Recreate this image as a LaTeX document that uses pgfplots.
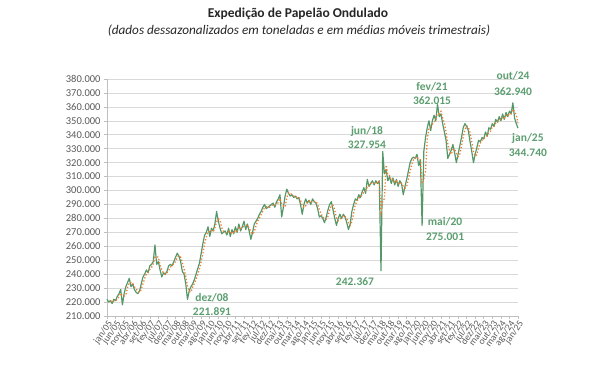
\documentclass[border=0pt]{standalone}
\usepackage{pgfplots}
\pgfplotsset{compat=1.18}
\usepackage{pgfplotstable}
\usepackage{fontspec}
\setmainfont{Carlito}
\definecolor{gline}{RGB}{84,152,106}
\definecolor{gtext}{RGB}{92,158,112}
\definecolor{oline}{RGB}{237,125,49}
\definecolor{tickgray}{RGB}{89,89,89}
\definecolor{gridgray}{RGB}{217,217,217}
\definecolor{axgray}{RGB}{191,191,191}

\pgfplotstableread{
m v ma
0 222 nan
1 220 nan
2 221 221.0
3 219 220.0
4 222 220.7
5 221 220.7
6 224 222.3
7 226 223.7
8 229 226.3
9 218 224.3
10 226 224.3
11 231 225.0
12 234 230.3
13 237 234.0
14 231 234.0
15 233 233.7
16 229 231.0
17 227 229.7
18 226 227.3
19 228 227.0
20 233 229.0
21 238 233.0
22 240 237.0
23 243 240.3
24 241 241.3
25 246 243.3
26 247 244.7
27 249 247.3
28 261 252.3
29 247 252.3
30 249 252.3
31 243 246.3
32 238 243.3
33 241 240.7
34 240 239.7
35 242 241.0
36 246 242.7
37 247 245.0
38 246 246.3
39 249 247.3
40 252 249.0
41 255 252.0
42 253 253.3
43 249 252.3
44 242 248.0
45 240 243.7
46 233 238.3
47 221.891 231.6
48 228 227.6
49 231 227.0
50 233 230.7
51 236 233.3
52 240 236.3
53 244 240.0
54 248 244.0
55 255 249.0
56 262 255.0
57 268 261.7
58 270 266.7
59 274 270.7
60 267 270.3
61 273 271.3
62 271 270.3
63 276 273.3
64 285 277.3
65 278 279.7
66 273 278.7
67 269 273.3
68 270 270.7
69 271 270.0
70 268 269.7
71 273 270.7
72 267 269.3
73 272 270.7
74 269 269.3
75 274 271.7
76 270 271.0
77 276 273.3
78 271 272.3
79 274 273.7
80 278 274.3
81 272 274.7
82 276 275.3
83 271 273.0
84 265 270.7
85 270 268.7
86 276 270.3
87 278 274.7
88 280 278.0
89 283 280.3
90 285 282.7
91 288 285.3
92 290 287.7
93 287 288.3
94 288 288.3
95 289 288.0
96 290 289.0
97 291 290.0
98 288 289.7
99 292 290.3
100 294 291.3
101 297 294.3
102 281 290.7
103 288 288.7
104 296 288.3
105 301 295.0
106 298 298.3
107 296 298.3
108 297 297.0
109 295 296.0
110 296 296.0
111 294 295.0
112 295 295.0
113 290 293.0
114 283 289.3
115 290 287.7
116 294 289.0
117 291 291.7
118 293 292.7
119 290 291.3
120 294 292.3
121 292 292.0
122 291 292.3
123 287 290.0
124 281 286.3
125 282 283.3
126 280 281.0
127 277 279.7
128 281 279.3
129 286 281.3
130 290 285.7
131 292 289.3
132 286 289.3
133 280 286.0
134 275 280.3
135 280 278.3
136 283 279.3
137 280 281.0
138 283 282.0
139 281 281.3
140 277 280.3
141 272 276.7
142 276 275.0
143 285 277.7
144 290 283.7
145 294 289.7
146 293 292.3
147 297 294.7
148 295 295.0
149 299 297.0
150 302 298.7
151 298 299.7
152 308 302.7
153 303 303.0
154 305 305.3
155 307 305.0
156 304 305.3
157 307 306.0
158 305 305.3
159 307 306.3
160 242.367 284.8
161 327.954 292.5
162 312 294.1
163 315 318.3
164 307 311.3
165 310 310.7
166 305 307.3
167 309 308.0
168 304 306.0
169 308 307.0
170 303 305.0
171 307 306.0
172 305 305.0
173 297 303.0
174 303 301.7
175 308 302.7
176 314 308.3
177 320 314.0
178 323 319.0
179 324 322.3
180 323 323.3
181 326 324.3
182 318 322.3
183 322 322.0
184 275.001 305.0
185 328 308.3
186 338 313.7
187 345 337.0
188 350 344.3
189 343 346.0
190 350 347.7
191 354 349.0
192 350 351.3
193 362.015 355.3
194 353 355.0
195 355 356.7
196 348 352.0
197 342 348.3
198 336 342.0
199 323 333.7
200 326 328.3
201 329 326.0
202 333 329.3
203 327 329.7
204 320 326.7
205 326 324.3
206 332 326.0
207 338 332.0
208 345 338.3
209 348 343.7
210 346 346.3
211 343 345.7
212 335 341.3
213 328 335.3
214 320 327.7
215 326 324.7
216 331 325.7
217 336 331.0
218 335 334.0
219 338 336.3
220 337 336.7
221 342 339.0
222 339 339.3
223 345 342.0
224 344 342.7
225 348 345.7
226 346 346.0
227 351 348.3
228 349 348.7
229 353 351.0
230 350 350.7
231 355 352.7
232 351 352.0
233 356 354.0
234 353 353.3
235 357 355.3
236 355 355.0
237 362.940 358.3
238 352 356.6
239 348 354.3
240 344.740 348.2
}\datatable

\begin{document}
\begin{tikzpicture}
\path[use as bounding box] (0,0) rectangle (593bp,366bp);
\node[font=\fontsize{13.5bp}{16bp}\selectfont\bfseries, text=black!85] at (298bp,352bp) {Expedição de Papelão Ondulado};
\node[font=\fontsize{13.2bp}{15bp}\selectfont\itshape, text=black!85] at (299bp,335bp) {(dados dessazonalizados em toneladas e em médias móveis trimestrais)};
\begin{axis}[
  at={(107bp,50bp)}, anchor=south west,
  width=411bp, height=237bp, scale only axis,
  xmin=0, xmax=240, ymin=210, ymax=380,
  axis x line*=bottom, axis y line*=left,
  axis line style={draw=axgray, line width=0.6pt},
  xtick={0,5,...,240},
  xticklabels={jan/05,jun/05,nov/05,abr/06,set/06,fev/07,jul/07,dez/07,mai/08,out/08,mar/09,ago/09,jan/10,jun/10,nov/10,abr/11,set/11,fev/12,jul/12,dez/12,mai/13,out/13,mar/14,ago/14,jan/15,jun/15,nov/15,abr/16,set/16,fev/17,jul/17,dez/17,mai/18,out/18,mar/19,ago/19,jan/20,jun/20,nov/20,abr/21,set/21,fev/22,jul/22,dez/22,mai/23,out/23,mar/24,ago/24,jan/25},
  x tick label style={rotate=55, anchor=north east, inner sep=0.5pt, font=\fontsize{9.5bp}{10bp}\selectfont, text=tickgray},
  ytick={210,220,...,380},
  yticklabels={210.000,220.000,230.000,240.000,250.000,260.000,270.000,280.000,290.000,300.000,310.000,320.000,330.000,340.000,350.000,360.000,370.000,380.000},
  y tick label style={font=\fontsize{10.5bp}{12bp}\selectfont, text=tickgray},
  tick align=outside, major tick length=3bp,
  tick style={draw=axgray, line width=0.6pt},
  ymajorgrids, grid style={draw=gridgray, line width=0.6pt},
  clip=false,
]
\addplot[draw=gline, line width=1.2pt, line join=round] table[x=m, y=v] {\datatable};
\addplot[draw=oline, line width=1.3pt, dotted, unbounded coords=discard] table[x=m, y=ma] {\datatable};
\begin{scope}[every node/.style={font=\fontsize{11.5bp}{12bp}\selectfont\bfseries, text=gtext}]
\node at (axis cs:61.3,222.9) {dez/08};
\node at (axis cs:61.3,212.9) {221.891};
\node at (axis cs:144.8,234.4) {242.367};
\node at (axis cs:151.8,342.7) {jun/18};
\node at (axis cs:151.8,332.7) {327.954};
\node at (axis cs:197.4,277.4) {mai/20};
\node at (axis cs:197.4,266.7) {275.001};
\node at (axis cs:189.8,374.3) {fev/21};
\node at (axis cs:189.8,364.2) {362.015};
\node at (axis cs:237.1,382.2) {out/24};
\node at (axis cs:237.1,370.7) {362.940};
\node at (axis cs:245.8,337.7) {jan/25};
\node at (axis cs:245.8,326.9) {344.740};
\end{scope}
\end{axis}
\end{tikzpicture}
\end{document}
